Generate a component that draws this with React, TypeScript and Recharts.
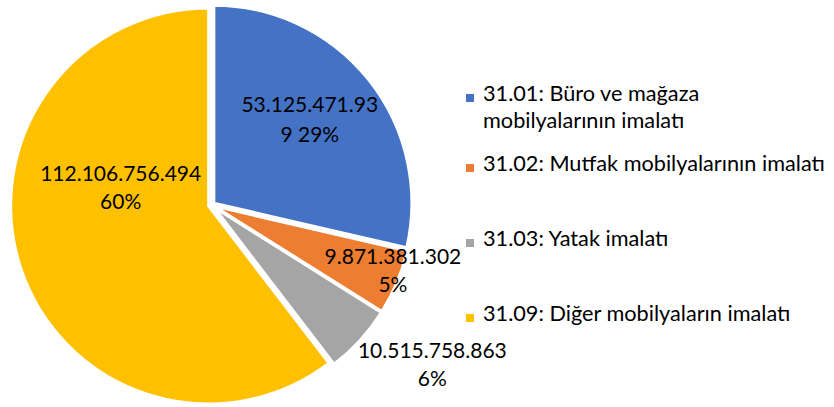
import React from 'react';
import { PieChart, Pie, Cell, Legend } from 'recharts';

// ---- data ----
const categories = [
  '31.01: Büro ve mağaza mobilyalarının imalatı',
  '31.02: Mutfak mobilyalarının imalatı',
  '31.03: Yatak imalatı',
  '31.09: Diğer mobilyaların imalatı',
];
const values = [53125471939, 9871381302, 10515758863, 112106756494];
const colors = ['#4472C4', '#ED7D31', '#A5A5A5', '#FFC000'];

// ---- style ----
const W = 834;
const H = 407;
const CX = 211.5;
const CY = 205;
const R = 198;
const EXPLODE = 3;
const FONT = 'Lato, "Noto Sans", sans-serif';
const FONT_SIZE = 21;
const LEGEND_FONT_SIZE = 21.7;
// label placement: radius factor, angle shift (deg), line gap, wrap char count
const labelStyle = [
  { rf: 0.684, shift: 5, gap: 30, wrap: 13 },
  { rf: 0.964, shift: 4.5, gap: 28, wrap: 0 },
  { rf: 1.358, shift: 7.6, gap: 28, wrap: 0 },
  { rf: 0.474, shift: -33.4, gap: 28, wrap: 0 },
];
const legendGaps = [16, 48, 48, 0];

const data = categories.map((name, i) => ({ name, value: values[i] }));
const total = values.reduce((a, b) => a + b, 0);
const cumulative = values.map((_, i) => values.slice(0, i).reduce((a, b) => a + b, 0));
const fmt = (v: number) => String(v).replace(/\B(?=(\d{3})+(?!\d))/g, '.');
const pct = (v: number) => `${Math.round((v / total) * 100)}%`;

const renderLabel = (p: any) => {
  const i = p.index;
  const st = labelStyle[i];
  const a = ((p.midAngle + st.shift) * Math.PI) / 180;
  const r = p.outerRadius * st.rf;
  const x = p.cx + r * Math.cos(a);
  const y = p.cy - r * Math.sin(a);
  const vText = fmt(values[i]);
  let lines: string[];
  if (st.wrap) {
    const full = `${vText} ${pct(values[i])}`;
    lines = [full.slice(0, st.wrap), full.slice(st.wrap)];
  } else {
    lines = [vText, pct(values[i])];
  }
  return (
    <text x={x} y={y} textAnchor="middle" fontFamily={FONT} fontSize={FONT_SIZE} fill="#000">
      <tspan x={x} y={y}>{lines[0]}</tspan>
      <tspan x={x} y={y + st.gap}>{lines[1]}</tspan>
    </text>
  );
};

const renderLegend = () => (
  <div style={{ fontFamily: FONT, fontSize: LEGEND_FONT_SIZE, lineHeight: '27px', color: '#000' }}>
    {categories.map((c, i) => (
      <div key={i} style={{ display: 'flex', alignItems: 'flex-start', marginBottom: legendGaps[i] }}>
        <span
          style={{ width: 8, height: 8, background: colors[i], marginTop: 14, marginRight: 9, flex: 'none' }}
        />
        <span style={{ width: 345 }}>{c}</span>
      </div>
    ))}
  </div>
);

export default function App() {
  return (
    <div style={{ position: 'absolute', left: 0, top: 0, width: W, height: H, background: '#fff' }}>
      <PieChart width={W} height={H} margin={{ top: 0, right: 0, bottom: 0, left: 0 }}>
        {data.map((_, k) => {
          const mid = ((90 - ((cumulative[k] + values[k] / 2) / total) * 360) * Math.PI) / 180;
          return (
            <Pie
              key={k}
              data={data}
              dataKey="value"
              nameKey="name"
              cx={CX + EXPLODE * Math.cos(mid)}
              cy={CY - EXPLODE * Math.sin(mid)}
              outerRadius={R}
              startAngle={90}
              endAngle={-270}
              isAnimationActive={false}
              labelLine={false}
              label={false}
              legendType="none"
            >
              {data.map((d, i) => (
                <Cell
                  key={i}
                  fill={i === k ? colors[i] : 'none'}
                  stroke={i === k ? '#fff' : 'none'}
                  strokeWidth={3}
                />
              ))}
            </Pie>
          );
        })}
        <Pie
          data={data}
          dataKey="value"
          nameKey="name"
          cx={CX}
          cy={CY}
          outerRadius={R}
          startAngle={90}
          endAngle={-270}
          isAnimationActive={false}
          labelLine={false}
          label={renderLabel}
          legendType="none"
        >
          {data.map((d, i) => (
            <Cell key={i} fill="none" stroke="none" />
          ))}
        </Pie>
        <Legend
          layout="vertical"
          align="right"
          verticalAlign="top"
          content={renderLegend}
          wrapperStyle={{ position: 'absolute', left: 466, top: 80, width: 368 }}
        />
      </PieChart>
    </div>
  );
}
